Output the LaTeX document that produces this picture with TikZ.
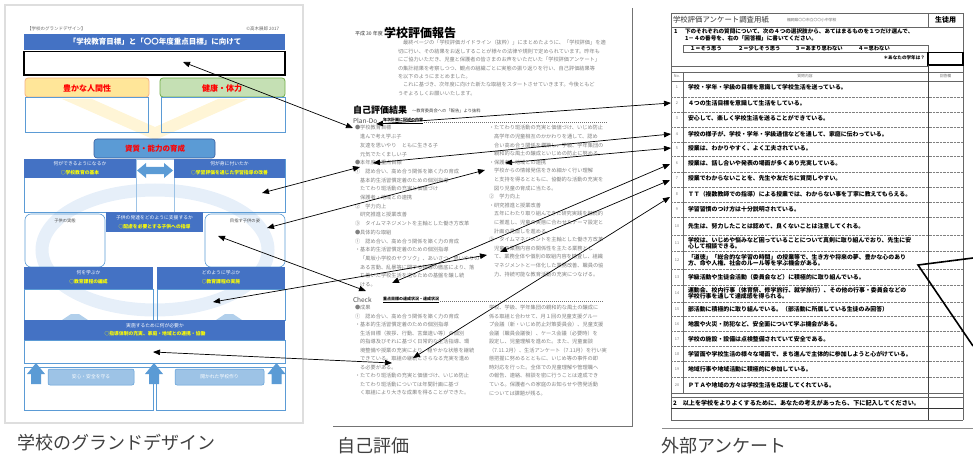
\documentclass[tikz,border=0pt]{standalone}
\usepackage{fontspec}
\setmainfont{Noto Sans CJK JP}
\usetikzlibrary{arrows.meta}
\definecolor{dblue}{HTML}{4472C4}
\definecolor{mblue}{HTML}{5B9BD5}
\definecolor{lblue}{HTML}{9DC3E6}
\definecolor{pblue}{HTML}{E6EFF9}
\definecolor{ofill}{HTML}{FFE699}
\definecolor{oline}{HTML}{F4B183}
\definecolor{gfill}{HTML}{C5E0B4}
\definecolor{grnline}{HTML}{70AD47}
\definecolor{ylw}{HTML}{FFFF00}
\definecolor{pyel}{HTML}{FFF5D6}
\definecolor{capc}{HTML}{404040}
\definecolor{bodyc}{HTML}{808080}
\newcommand\myfs[1]{\fontsize{#1}{#1}\selectfont}
\begin{document}
\begin{tikzpicture}[x=1pt,y=-1pt,
 txt/.style={inner sep=0pt,outer sep=0pt},
 captxt/.style={txt,anchor=west,text=capc,font=\myfs{18}},
 body/.style={txt,anchor=west,text=bodyc,font=\myfs{5.2}},
 qrow/.style={txt,anchor=west,text=black,font=\myfs{5.9}\bfseries},
 numtxt/.style={txt,text=black!55,font=\myfs{3.8}},
 hw/.style={txt,text=white,font=\myfs{4.8}},
 hy/.style={txt,text=ylw,font=\myfs{4.8}\bfseries},
 redt/.style={txt,text=red,font=\myfs{8}\bfseries},
 boxo/.style={draw=mblue,line width=0.6pt},
 hdr/.style={fill=dblue,draw=none},
 dbl/.style={{Triangle[length=7pt,width=5.5pt]}-{Triangle[length=7pt,width=5.5pt]},line width=0.7pt,black},
 dotl/.style={black!50,line width=0.4pt,dash pattern=on 0.7pt off 0.7pt},
 solidl/.style={black!60,line width=0.6pt}]
\useasboundingbox (0,0) rectangle (973,457);

% ================= Panel 1: grand design =================
\draw[black!13,line width=1.6pt] (5,5) rectangle (303,423);
\node[txt,anchor=west,font=\myfs{4.5},text=black!60] (gdtag) at (27,29) {【学校のグランドデザイン】};
\node[txt,anchor=east,font=\myfs{4.5},text=black!60] (gdcopy) at (279,29) {©高木展郎 2017};
\fill[pyel] (62,99) -- (92,99) -- (155,127) -- (218,99) -- (248,99) -- (155,140) -- cycle;
\draw[pblue,line width=13pt] (155,250) ellipse [x radius=113pt,y radius=60pt];

\fill[dblue] (24,34) rectangle (285,50);
\node[txt,text=white,font=\myfs{7.5}\bfseries] (gdtitle) at (155,42) {「学校教育目標」と「〇〇年度重点目標」に向けて};
\draw[black,line width=1.3pt] (24,51.5) rectangle (285,75);
\draw[oline,fill=ofill,rounded corners=3pt,line width=0.8pt] (25,78) rectangle (149,97);
\node[redt] (gdh1) at (87,88) {豊かな人間性};
\draw[grnline,fill=gfill,rounded corners=3pt,line width=0.8pt] (160,78) rectangle (285,97);
\node[redt] (gdh2) at (222,88) {健康・体力};
\draw[boxo] (25,97) rectangle (148,132);
\draw[boxo] (161,97) rectangle (285,132);

\draw[dblue!80!black,fill=mblue,rounded corners=3pt,line width=0.6pt] (94,139) rectangle (215,158);
\node[redt,font=\myfs{7.5}\bfseries] (gdcore) at (155,149) {資質・能力の育成};

\draw[boxo] (24,159) rectangle (136,212);
\draw[boxo] (174,159) rectangle (285,212);
\draw[lblue,line width=0.6pt] (136,159) rectangle (174,212);
\fill[hdr] (24,159) rectangle (136,178);
\fill[hdr] (174,159) rectangle (285,178);
\node[hw] (gdl1) at (80,164) {何ができるようになるか};
\node[hy] (gdl2) at (80,173) {○学校教育の基本};
\node[hw] (gdr1) at (229.5,164) {何が身に付いたか};
\node[hy] (gdr2) at (229.5,173) {○学習評価を通じた学習指導の改善};
\fill[mblue] (137,170.5) -- (146,163) -- (146,167) -- (164,167) -- (164,163) -- (173,170.5) -- (164,178) -- (164,174) -- (146,174) -- (146,178) -- cycle;

\draw[boxo,rounded corners=6pt] (25,214) rectangle (105,267);
\node[txt,font=\myfs{4.3},text=black!70] (gdkid1) at (65,221) {子供の実態};
\draw[boxo,rounded corners=6pt] (205,214) rectangle (285,267);
\node[txt,font=\myfs{4.3},text=black!70] (gdkid2) at (245,221) {目指す子供の姿};
\fill[hdr] (106,212) rectangle (203,232);
\node[hw] (gdm1) at (154.5,218) {子供の発達をどのように支援するか};
\node[hy] (gdm2) at (154.5,227) {○配慮を必要とする子供への指導};

\draw[boxo] (24,289) rectangle (153,320);
\draw[boxo] (157,289) rectangle (285,320);
\fill[lblue!80] (62,320) -- (71,314) -- (79,314) -- (88,320) -- cycle;
\fill[lblue!80] (216,320) -- (225,314) -- (233,314) -- (242,320) -- cycle;
\fill[hdr] (24,267) rectangle (153,289);
\fill[hdr] (157,267) rectangle (285,289);
\node[hw] (gdw1) at (88.5,273) {何を学ぶか};
\node[hy] (gdw2) at (88.5,282) {○教育課程の編成};
\node[hw] (gdh3) at (221,273) {どのように学ぶか};
\node[hy] (gdh4) at (221,282) {○教育課程の実施};

\fill[hdr] (24,320) rectangle (285,340);
\node[hw] (gdn1) at (155,326) {実施するために何が必要か};
\node[hy] (gdn2) at (155,334) {○指導体制の充実、家庭・地域との連携・協働};
\draw[boxo] (24,340) rectangle (285,363);

\draw[boxo] (24,367) rectangle (153,410);
\draw[boxo] (156,367) rectangle (285,410);
\foreach \cx in {36,154,276.5}{
  \fill[mblue] ({\cx-9},374) -- (\cx,363) -- ({\cx+9},374) -- ({\cx+5},374) -- ({\cx+5},384) -- ({\cx-5},384) -- ({\cx-5},374) -- cycle;
}
\draw[mblue,fill=lblue,rounded corners=2pt,line width=0.5pt] (48,369) rectangle (134,385);
\node[hw] (gdsafe) at (91,377) {安心・安全を守る};
\draw[mblue,fill=lblue,rounded corners=2pt,line width=0.5pt] (175,369) rectangle (264,385);
\node[hw] (gdopen) at (219.5,377) {開かれた学校作り};

% ================= Panel 2: self evaluation =================
\draw[black!55,line width=0.8pt] (632,8) -- (632,426) -- (333,426);
\node[txt,anchor=west,font=\myfs{5},text=black!80] (p2yr) at (355,34) {平成 30 年度};
\node[txt,anchor=west,font=\myfs{12}\bfseries] (p2title) at (384,33) {学校評価報告};
\foreach \t [count=\i from 0] in {
  　最終ページの「学校評価ガイドライン（抜粋）」にまとめたように、「学校評価」を適,
  切に行い、その結果をお返しすることが様々の法律や規則で定められています。昨年も,
  にご協力いただき、児童と保護者の皆さまのお声をいただいた「学校評価アンケート」,
  の集計結果を考察しつつ、観点の組織ごとに実態の振り返りを行い、自己評価結果等,
  を以下のようにまとめました。,
  　これに基づき、次年度に向けた新たな取組をスタートさせていきます。今後ともど,
  うぞよろしくお願いいたします。}
  {\node[body] (p2par\i) at (398,{43+\i*8.4}) {\t};}
\node[txt,anchor=west,font=\myfs{9}\bfseries] (p2res) at (353,110) {自己評価結果};
\node[txt,anchor=west,font=\myfs{4.3},text=black!75] (p2resb) at (412,111) {～教育委員会への「報告」より抜粋};
\node[txt,anchor=west,font=\myfs{6.5},text=black!70] (p2plan) at (353,121) {Plan-Do};
\node[txt,anchor=west,font=\myfs{4}\bfseries] (p2planb) at (383,121) {\underline{年次計画に記述の内容}};
\draw[black!55,line width=0.5pt,dash pattern=on 1.2pt off 0.8pt] (p2planb.east) ++(1,1) -- (607,122);
\foreach \t [count=\i from 0] in {
  ●学校教育目標, 　進んで考え学ぶ子, 　友達を思いやり　ともに生きる子, 　元気でたくましい子,
  ●本年度の重点目標, ①　認め合い、高め合う関係を築く力の育成, 　基本的生活習慣定着のための個別指導,
  　たてわり班活動の充実と価値づけ, 　保護者・地域との連携, ②　学力向上, 　研究推進と授業改善,
  ③　タイムマネジメントを主軸とした働き方改革, ●具体的な取組, ①　認め合い、高め合う関係を築く力の育成,
  ・基本的生活習慣定着のための個別指導, 　「風坂小学校のヤクソク」、あいさつ、思いやりの,
  　ある言動、乱暴等に関する指導の徹底により、落, 　ち着いた学校生活を送るための基盤を醸し続, 　ける。}
  {\node[body] (p2l\i) at (355,{128+\i*8.7}) {\t};}
\foreach \t [count=\i from 0] in {
  ・たてわり班活動の充実と価値づけ、いじめ防止, 　高学年の児童相互のかかわりを通して、認め,
  　合い高め合う関係を構築し、学級、学年集団の, 　親和的な風土の醸成といじめの防止に努める。,
  ・保護者・地域との連携, 　学校からの情報発信をきめ細かく行い理解, 　と支持を得るとともに、協働的な活動の充実を,
  　図り児童の育成に当たる。, ②　学力向上, ・研究推進と授業改善, 　五年にわたり取り組んできた研究実践を継続的,
  　に推進し、児童の実態に合わせたテーマ設定と, 　計画の見直しを進める。, ③　タイムマネジメントを主軸とした働き方改革,
  　児童の業務内容の関係性を主たる業務とし, 　て、業務全体や個別の取組内容を精査し、組織,
  　マネジメントと一体化した業務改善、職員の協, 　力、持続可能な教育活動の充実につなげる。}
  {\node[body] (p2r\i) at (489,{128+\i*8.6}) {\t};}
\node[txt,anchor=west,font=\myfs{6.5},text=black!70] (p2check) at (353,300) {Check};
\node[txt,anchor=west,font=\myfs{4}\bfseries] (p2checkb) at (383,300) {\underline{重点目標の達成状況・達成状況}};
\draw[black!55,line width=0.5pt,dash pattern=on 1.2pt off 0.8pt] (p2checkb.east) ++(1,1) -- (603,301);
\foreach \t [count=\i from 0] in {
  ●成果, ①　認め合い、高め合う関係を築く力の育成, ・基本的生活習慣定着のための個別指導,
  　生活目標（挨拶、行動、言葉遣い等）の個別, 　的指導及びそれに基づく日常的な生活指導、環,
  　境整備や授業の充実により、穏やかな状態を継続, 　できている。取組の継続とさらなる充実を進め,
  　る必要がある。, ・たてわり班活動の充実と価値づけ、いじめ防止, 　たてわり班活動については年間計画に基づ,
  　く取組により大きな成果を得ることができた。}
  {\node[body] (p2cl\i) at (355,{308+\i*8.5}) {\t};}
\foreach \t [count=\i from 0] in {
  学校、学級、学年集団の親和的な風土の醸成に, 係る取組と合わせて、月１回の児童支援グルー,
  プ会議（新・いじめ防止対策委員会）、児童支援, 会議（職員会議後）、ケース会議（必要時）を,
  設定し、児童理解を進めた。また、児童面談, （7.11.2月）、生活アンケート（7.11月）を行い実,
  態把握に努めるとともに、いじめ等の事件の即, 時対応を行った。全体での児童理解や管理職へ,
  の報告、連絡、相談を密に行うことは達成でき, ている。保護者への家庭のお知らせや啓発活動,
  については課題が残る。}
  {\node[body] (p2cr\i) at (489,{308+\i*8.5}) {\t};}

% ================= Panel 3: survey =================
\draw[solidl] (671,13) -- (671,420);
\draw[solidl] (963,13) -- (963,420);
\draw[solidl] (671,13) -- (963,13);
\draw[solidl] (671,27) -- (963,27);
\draw[solidl] (928,13) -- (928,27);
\node[txt,anchor=west,font=\myfs{7.4},text=black!80] (p3title) at (673,20) {学校評価アンケート調査用紙};
\node[txt,anchor=west,font=\myfs{3.8},text=black!60] (p3school) at (787,20.5) {福岡県〇〇市立〇〇小中学校};
\node[txt,font=\myfs{7}\bfseries] (p3stu) at (945.5,20) {生徒用};
\node[txt,anchor=west,font=\myfs{5.6}\bfseries] (p3one) at (674,31) {1};
\node[txt,anchor=west,font=\myfs{5.6}\bfseries] (p3ins1) at (685,31) {下のそれぞれの質問について、次の４つの選択肢から、あてはまるものを１つだけ選んで、};
\node[txt,anchor=west,font=\myfs{5.6}\bfseries] (p3ins2) at (685,38) {1－４の番号を、右の「回答欄」に書いてください。};
\draw[solidl] (683,45) rectangle (928,52.5);
\node[txt,anchor=west,font=\myfs{5.3}\bfseries] (p3o1) at (690,48.8) {１＝そう思う};
\node[txt,anchor=west,font=\myfs{5.3}\bfseries] (p3o2) at (738,48.8) {２＝少しそう思う};
\node[txt,anchor=west,font=\myfs{5.3}\bfseries] (p3o3) at (795,48.8) {３＝あまり思わない};
\node[txt,anchor=west,font=\myfs{5.3}\bfseries] (p3o4) at (858,48.8) {４＝思わない};
\node[txt,anchor=east,font=\myfs{4.6}\bfseries] (p3grade) at (925,58) {＊あなたの学年は？};
\draw[black,line width=1.1pt] (928,52.5) rectangle (963,65);
\draw[solidl] (671,66) -- (928,66);
\draw[solidl] (671,72) -- (963,72);
\draw[solidl] (671,81) -- (963,81);
\draw[solidl] (683,72) -- (683,393);
\draw[black!75,line width=0.8pt] (928,65) -- (928,420);
\node[numtxt] (p3no) at (677,76.5) {No.};
\node[numtxt] (p3q) at (805,76.5) {質問内容};
\node[numtxt] (p3a) at (945.5,76.5) {回答欄};
\foreach \yy [count=\i] in {87,103,118,134,148,163,178,194,209,226,243,260,277,293,309,324,339,354,369,385}
  {\node[numtxt] (p3n\i) at (677,\yy) {\i};}
\foreach \yy in {97,112,127,142,156,172,187,202,217,235,251,269,285,302,316,331,346,361,377}
  {\draw[dotl] (671,\yy) -- (963,\yy);}
\draw[solidl] (671,393) -- (963,393);
\draw[solidl] (671,397) -- (963,397);
\draw[black!80,line width=1pt] (671,408) -- (963,408);
\draw[solidl] (671,420) -- (963,420);
\draw[black!45,line width=0.7pt] (662,428) -- (973,428);
\foreach \yy/\t [count=\i] in {
  87/学校・学年・学級の目標を意識して学校生活を送っている。,
  103/４つの生活目標を意識して生活をしている。,
  118/安心して、楽しく学校生活を送ることができている。,
  134/学校の様子が、学校・学年・学級通信などを通して、家庭に伝わっている。,
  148/授業は、わかりやすく、よく工夫されている。,
  163/授業は、話し合いや発表の場面が多くあり充実している。,
  178/授業でわからないことを、先生や友だちに質問しやすい。,
  194/ＴＴ（複数教師での指導）による授業では、わからない事を丁寧に教えてもらえる。,
  209/学習習慣のつけ方は十分説明されている。,
  226/先生は、努力したことは認めて、良くないことは注意してくれる。,
  240/学校は、いじめや悩みなど困っていることについて真剣に取り組んでおり、先生に安,
  246.5/心して相談できる。,
  257/「道徳」「総合的な学習の時間」の授業等で、生き方や将来の夢、豊かな心のあり,
  263.5/方、命や人権、社会のルール等を学ぶ機会がある。,
  277/学級活動や生徒会活動（委員会など）に積極的に取り組んでいる。,
  290/運動会、校内行事（体育祭、修学旅行、就学旅行）、その他の行事・委員会などの,
  296.5/学校行事を通して達成感を得られる。,
  309/部活動に積極的に取り組んでいる。（部活動に所属している生徒のみ回答）,
  324/地震や火災・防犯など、安全面について学ぶ機会がある。,
  339/学校の施設・設備は点検整備されていて安全である。,
  354/学習面や学校生活の様々な場面で、まち進んで主体的に参加しようと心がけている。,
  369/地域行事や地域活動に積極的に参加している。,
  385/ＰＴＡや地域の方々は学校生活を応援してくれている。}
  {\node[qrow] (p3t\i) at (688,\yy) {\t};}
\node[txt,anchor=west,font=\myfs{6.1}\bfseries] (p3two) at (673,403.5) {2　以上を学校をよりよくするために、あなたの考えがあったら、下に記入してください。};
\coordinate (vtip) at (918,265);
\coordinate (vup) at (973,258);
\coordinate (vdn) at (973,346);
\draw[black,line width=1.6pt,line join=miter] (vup) -- (vtip) -- (vdn);

% ================= connectors =================
\coordinate (a1) at (183,62);   \coordinate (a2) at (353,128);
\coordinate (b1) at (262,193);  \coordinate (b2) at (360,167);
\coordinate (c1) at (267,228);  \coordinate (c2) at (485,170);
\coordinate (d1) at (218,236);  \coordinate (d2) at (366,291);
\coordinate (e1) at (213,302);  \coordinate (e2) at (487,255);
\coordinate (f1) at (153,352);  \coordinate (f2) at (392,363);
\coordinate (g1) at (376,124);  \coordinate (g2) at (671,103);
\coordinate (h1) at (373,163);  \coordinate (h2) at (671,134);
\coordinate (i1) at (505,163);  \coordinate (i2) at (671,148);
\coordinate (j1) at (392,283);  \coordinate (j2) at (670,164);
\coordinate (k1) at (500,252);  \coordinate (k2) at (670,180);
\coordinate (l1) at (413,358);  \coordinate (l2) at (670,197);
\foreach \p in {a,b,c,d,e,f,g,h,i,j,k,l}{\draw[dbl] (\p1) -- (\p2);}

% ================= captions =================
\node[captxt] (cap1) at (17,443) {学校のグランドデザイン};
\node[captxt] (cap2) at (337,446) {自己評価};
\node[captxt] (cap3) at (661,446) {外部アンケート};
\end{tikzpicture}
\end{document}
